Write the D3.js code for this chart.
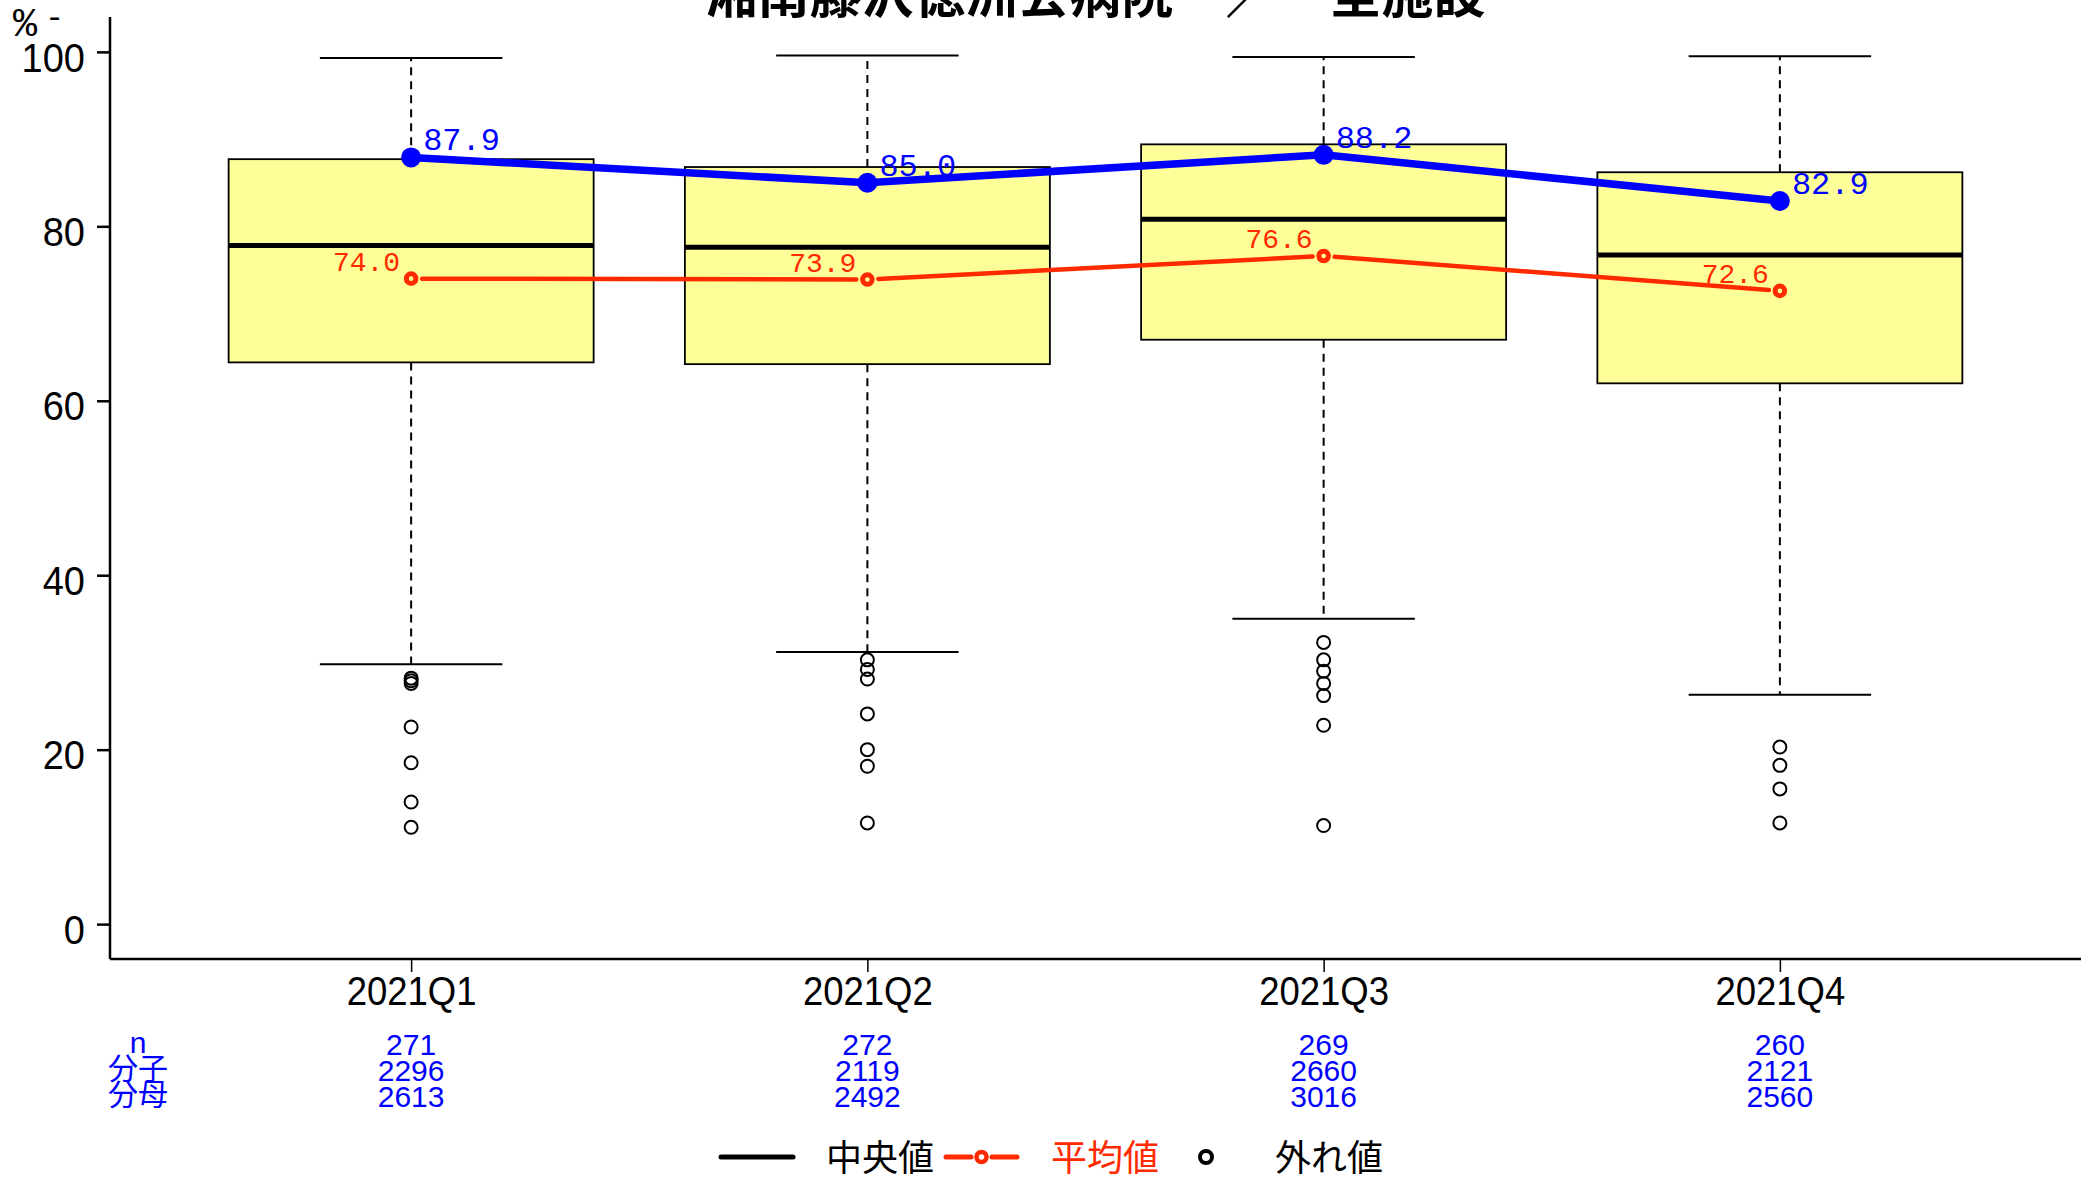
<!DOCTYPE html>
<html>
<head>
<meta charset="utf-8">
<script src="https://cdn.jsdelivr.net/npm/d3@7"></script>
<style>
  html, body { margin: 0; padding: 0; background: #fff; }
  svg { display: block; }
</style>
</head>
<body>
<svg id="chart" width="2096" height="1180"></svg>
<script>
// ---- data ----
const title = "湘南藤沢徳洲会病院　／　全施設";
const categories = ["2021Q1", "2021Q2", "2021Q3", "2021Q4"];
const whiskerHigh = [99.3, 99.6, 99.4, 99.5];
const boxQ3 = [87.7, 86.8, 89.4, 86.2];
const medians = [77.8, 77.6, 80.8, 76.7];
const boxQ1 = [64.4, 64.2, 67.0, 62.0];
const whiskerLow = [29.8, 31.2, 35.0, 26.3];
const outliers = [
  [28.2, 27.9, 27.6, 22.6, 18.5, 14.0, 11.1],
  [30.3, 29.2, 28.1, 24.1, 20.0, 18.1, 11.6],
  [32.3, 30.3, 29.0, 27.6, 26.2, 22.8, 11.3],
  [20.3, 18.2, 15.5, 11.6]
];
const meanValues = [74.0, 73.9, 76.6, 72.6];
const hospitalValues = [87.9, 85.0, 88.2, 82.9];
const nValues = [271, 272, 269, 260];
const numerators = [2296, 2119, 2660, 2121];
const denominators = [2613, 2492, 3016, 2560];
const tableLabels = ["n", "分子", "分母"];
const yTicks = [0, 20, 40, 60, 80, 100];
const yLabel = "%";
const legendLabels = ["中央値", "平均値", "外れ値"];

// ---- styles ----
const BLUE = "#0000ff";
const RED = "#ff2a00";
const BOXFILL = "#ffff99";
const SANS = "'Liberation Sans', Arial, sans-serif";
const MONO = "'Liberation Mono', 'DejaVu Sans Mono', monospace";
const CJK = "'Noto Sans CJK JP', 'Noto Sans CJK SC', sans-serif";

const svg = d3.select("#chart");
const plot = { left: 110, right: 2081, top: 17, bottom: 959 };

const x = d3.scaleLinear().domain([0.34, 4.66]).range([plot.left, plot.right]);
const y = d3.scaleLinear().domain([-4, 104]).range([plot.bottom, plot.top]);
const boxHalf = (x(1.4) - x(1));      // box width 0.8
const capHalf = boxHalf / 2;

const idx = categories.map((c, i) => i);

// ---- title (clipped at top like the reference) ----
svg.append("text")
  .attr("x", (plot.left + plot.right) / 2)
  .attr("y", 13)
  .attr("text-anchor", "middle")
  .attr("font-family", CJK)
  .attr("font-weight", "bold")
  .attr("font-size", 52)
  .attr("fill", "#000")
  .text(title);

// ---- y label ----
svg.append("text")
  .attr("x", 13).attr("y", 36)
  .attr("font-family", MONO)
  .attr("font-size", 40)
  .attr("fill", "#000")
  .text(yLabel);
svg.append("text")
  .attr("x", 45).attr("y", 27)
  .attr("font-family", MONO)
  .attr("font-size", 32)
  .attr("fill", "#000")
  .text("-");

// ---- boxes ----
const g = svg.append("g");

idx.forEach(i => {
  const cx = x(i + 1);
  g.append("line")
    .attr("x1", cx).attr("x2", cx)
    .attr("y1", y(boxQ3[i])).attr("y2", y(whiskerHigh[i]))
    .attr("stroke", "#000").attr("stroke-width", 2).attr("stroke-dasharray", "8,6");
  g.append("line")
    .attr("x1", cx).attr("x2", cx)
    .attr("y1", y(boxQ1[i])).attr("y2", y(whiskerLow[i]))
    .attr("stroke", "#000").attr("stroke-width", 2).attr("stroke-dasharray", "8,6");
  [whiskerHigh[i], whiskerLow[i]].forEach(v => {
    g.append("line")
      .attr("x1", cx - capHalf).attr("x2", cx + capHalf)
      .attr("y1", y(v)).attr("y2", y(v))
      .attr("stroke", "#000").attr("stroke-width", 2);
  });
});

g.selectAll("rect.box").data(idx).enter().append("rect")
  .attr("class", "box")
  .attr("x", i => x(i + 1) - boxHalf)
  .attr("y", i => y(boxQ3[i]))
  .attr("width", 2 * boxHalf)
  .attr("height", i => y(boxQ1[i]) - y(boxQ3[i]))
  .attr("fill", BOXFILL)
  .attr("stroke", "#000")
  .attr("stroke-width", 1.8);

g.selectAll("line.median").data(idx).enter().append("line")
  .attr("class", "median")
  .attr("x1", i => x(i + 1) - boxHalf)
  .attr("x2", i => x(i + 1) + boxHalf)
  .attr("y1", i => y(medians[i]))
  .attr("y2", i => y(medians[i]))
  .attr("stroke", "#000")
  .attr("stroke-width", 5);

idx.forEach(i => {
  g.selectAll(null).data(outliers[i]).enter().append("circle")
    .attr("cx", x(i + 1))
    .attr("cy", v => y(v))
    .attr("r", 6.5)
    .attr("fill", "none")
    .attr("stroke", "#000")
    .attr("stroke-width", 2);
});

// ---- axes ----
const yAxis = d3.axisLeft(y).tickValues(yTicks).tickSize(13).tickSizeOuter(0).tickPadding(12);
const ya = svg.append("g").attr("transform", `translate(${plot.left},0)`).call(yAxis);
ya.select(".domain").attr("stroke-width", 2.5);
ya.selectAll(".tick line").attr("stroke-width", 2.5);
ya.selectAll(".tick text")
  .attr("font-family", SANS).attr("font-size", 40).attr("fill", "#000")
  .attr("dy", "0.48em")
  .attr("transform", "translate(-25,0) scale(0.95,1) translate(25,0)");

const xAxis = d3.axisBottom(x).tickValues([1, 2, 3, 4])
  .tickFormat(d => categories[d - 1]).tickSize(13).tickSizeOuter(0);
const xa = svg.append("g").attr("transform", `translate(0,${plot.bottom})`).call(xAxis);
xa.select(".domain").attr("stroke-width", 2.5);
xa.selectAll(".tick line").attr("stroke-width", 1.5);
xa.selectAll(".tick text")
  .attr("font-family", SANS).attr("font-size", 41).attr("fill", "#000")
  .attr("y", 46).attr("dy", 0)
  .attr("transform", "scale(0.89,1)");
xa.select(".domain").attr("d", `M${plot.left},0H${plot.right}`);
ya.select(".domain").attr("d", `M0,${plot.top}V${plot.bottom}`);

// ---- mean line (red, type b with gaps) ----
const gap = 11;
const rl = svg.append("g");
for (let i = 0; i < meanValues.length - 1; i++) {
  const x1 = x(i + 1), y1 = y(meanValues[i]);
  const x2 = x(i + 2), y2 = y(meanValues[i + 1]);
  const len = Math.hypot(x2 - x1, y2 - y1);
  const ux = (x2 - x1) / len, uy = (y2 - y1) / len;
  rl.append("line")
    .attr("x1", x1 + ux * gap).attr("y1", y1 + uy * gap)
    .attr("x2", x2 - ux * gap).attr("y2", y2 - uy * gap)
    .attr("stroke", RED).attr("stroke-width", 4.5).attr("stroke-linecap", "round");
}
rl.selectAll("circle").data(idx).enter().append("circle")
  .attr("cx", i => x(i + 1)).attr("cy", i => y(meanValues[i]))
  .attr("r", 4.8).attr("fill", "none").attr("stroke", RED).attr("stroke-width", 5);
rl.selectAll("text").data(idx).enter().append("text")
  .attr("x", i => x(i + 1) - 11).attr("y", i => y(meanValues[i]) - 8)
  .attr("text-anchor", "end")
  .attr("font-family", MONO).attr("font-size", 28).attr("fill", RED)
  .text(i => meanValues[i].toFixed(1));

// ---- hospital line (blue) ----
const line = d3.line().x((d, i) => x(i + 1)).y(d => y(d));
const bl = svg.append("g");
bl.append("path").datum(hospitalValues)
  .attr("d", line).attr("fill", "none")
  .attr("stroke", BLUE).attr("stroke-width", 7.5);
bl.selectAll("circle").data(idx).enter().append("circle")
  .attr("cx", i => x(i + 1)).attr("cy", i => y(hospitalValues[i]))
  .attr("r", 10).attr("fill", BLUE);
bl.selectAll("text").data(idx).enter().append("text")
  .attr("x", i => x(i + 1) + 12).attr("y", i => y(hospitalValues[i]) - 7)
  .attr("font-family", MONO).attr("font-size", 32).attr("fill", BLUE)
  .text(i => hospitalValues[i].toFixed(1));

// ---- table under axis ----
const rows = [nValues, numerators, denominators];
const rowBase = [1055, 1081, 1107];
const tg = svg.append("g").attr("fill", BLUE);
rows.forEach((row, r) => {
  tg.append("text")
    .attr("x", 138).attr("y", rowBase[r] - 2)
    .attr("text-anchor", "middle")
    .attr("font-family", r === 0 ? SANS : CJK)
    .attr("font-size", 30)
    .text(tableLabels[r]);
  tg.selectAll(null).data(row).enter().append("text")
    .attr("x", (d, i) => x(i + 1)).attr("y", rowBase[r])
    .attr("text-anchor", "middle")
    .attr("font-family", SANS).attr("font-size", 30)
    .text(d => d);
});

// ---- legend ----
const lg = svg.append("g");
const ly = 1157;
lg.append("line").attr("x1", 721).attr("x2", 793).attr("y1", ly).attr("y2", ly)
  .attr("stroke", "#000").attr("stroke-width", 5).attr("stroke-linecap", "round");
lg.append("text").attr("x", 826).attr("y", 1171)
  .attr("font-family", CJK).attr("font-size", 36).attr("fill", "#000").text(legendLabels[0]);

lg.append("line").attr("x1", 946).attr("x2", 971).attr("y1", ly).attr("y2", ly)
  .attr("stroke", RED).attr("stroke-width", 5).attr("stroke-linecap", "round");
lg.append("line").attr("x1", 992).attr("x2", 1017).attr("y1", ly).attr("y2", ly)
  .attr("stroke", RED).attr("stroke-width", 5).attr("stroke-linecap", "round");
lg.append("circle").attr("cx", 981.5).attr("cy", ly).attr("r", 5)
  .attr("fill", "none").attr("stroke", RED).attr("stroke-width", 4.5);
lg.append("text").attr("x", 1051).attr("y", 1171)
  .attr("font-family", CJK).attr("font-size", 36).attr("fill", RED).text(legendLabels[1]);

lg.append("circle").attr("cx", 1206).attr("cy", ly).attr("r", 6)
  .attr("fill", "none").attr("stroke", "#000").attr("stroke-width", 4);
lg.append("text").attr("x", 1275).attr("y", 1171)
  .attr("font-family", CJK).attr("font-size", 36).attr("fill", "#000").text(legendLabels[2]);
</script>
</body>
</html>
